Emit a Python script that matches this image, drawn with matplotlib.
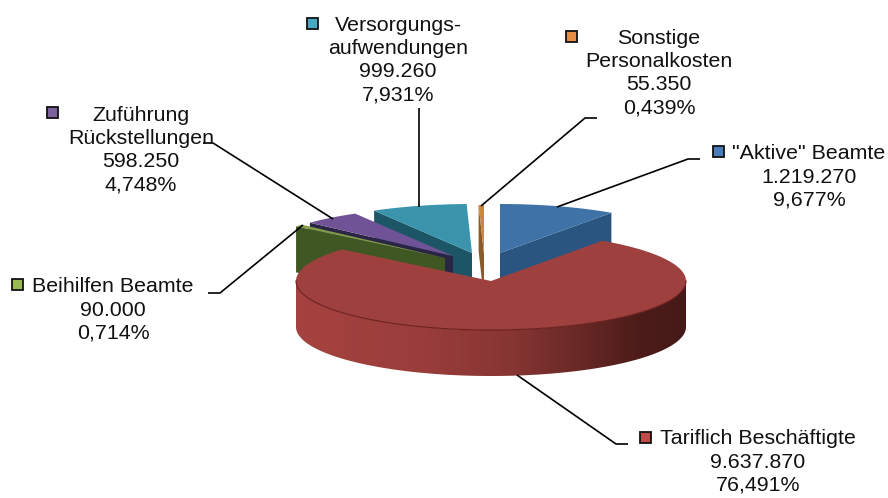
import numpy as np
import matplotlib
matplotlib.use("Agg")
import matplotlib.pyplot as plt
from matplotlib.patches import Polygon, Rectangle

plt.rcParams['font.family'] = ['Liberation Sans', 'DejaVu Sans']

# slices, clockwise from 12 o'clock
names = ['"Aktive" Beamte', 'Tariflich Beschäftigte', 'Beihilfen Beamte',
         'Zuführung\nRückstellungen', 'Versorgungs-\naufwendungen',
         'Sonstige\nPersonalkosten']
values = [1219270, 9637870, 90000, 598250, 999260, 55350]

top_colors = ['#3f73a8', '#9e413e', '#7f9a48', '#6f5396', '#3a94ac', '#c98642']
side_colors = ['#2a5580', '#9e413e', '#3f5722', '#2b2545', '#1c5566', '#8b5a2b']
key_colors = ['#4a7ebb', '#be4b48', '#98b954', '#7d60a0', '#46aac5', '#e48d45']

# apex of each exploded slice, in pixels
apex_x = [500, 491, 445, 453, 472, 484]
apex_y = [253, 281, 258, 256, 253, 254]
rx, ry, depth = 195, 49, 46
draw_order = [0, 5, 4, 3, 2, 1]

label_x = [809, 758, 113, 141, 398, 659]
label_y = [177, 462, 310, 150, 60, 73]
key_x = [718, 645, 17, 52, 312, 571]
key_y = [151, 437, 284, 112, 23, 36]
leaders = [[(700, 159), (688, 159), (557, 207)],
           [(628, 444), (616, 444), (517, 375)],
           [(208, 293), (220, 293), (303, 225)],
           [(203, 143), (213, 143), (333, 219)],
           [(419, 108), (419, 207)],
           [(597, 118), (585, 118), (481, 206)]]

# shading of the outer wall, left rim to right rim
shade_pos = [-1.0, -0.35, 0.1, 0.45, 0.75, 1.0]
shade_rgb = [[0.65, 0.26, 0.25], [0.60, 0.24, 0.23], [0.53, 0.21, 0.20],
             [0.41, 0.16, 0.15], [0.30, 0.11, 0.10], [0.27, 0.10, 0.09]]


def rim(cx, cy, t):
    return cx + rx * np.sin(t), cy - ry * np.cos(t)


def de_number(v):
    return f"{v:,}".replace(",", ".")


def de_percent(v, total):
    return f"{v / total * 100:.3f}".replace(".", ",") + "%"


fig = plt.figure(figsize=(8.88, 4.98), dpi=100)
ax = fig.add_axes([0, 0, 1, 1])
ax.axis('off')

total = sum(values)
edges = np.radians(np.concatenate([[0], np.cumsum(values)]) / total * 360)

for i in draw_order:
    cx, cy = apex_x[i], apex_y[i]
    t0, t1 = edges[i], edges[i + 1]
    # cut face turned towards the viewer
    t_face = t1 if i == 0 else t0
    fx, fy = rim(cx, cy, t_face)
    face = [(cx, cy), (fx, fy), (fx, fy + depth), (cx, cy + depth)]
    if i != 1:
        ax.add_patch(Polygon(face, closed=True, fc=side_colors[i], ec='none', zorder=2))

    # outer wall, front half only, dark to the right
    lo, hi = max(t0, np.pi / 2), min(t1, 3 * np.pi / 2)
    if hi > lo:
        ts = np.linspace(lo, hi, 300)
        xs, ys = rim(cx, cy, ts)
        wall = list(zip(xs, ys)) + list(zip(xs[::-1], ys[::-1] + depth))
        clip = Polygon(wall, closed=True, transform=ax.transData, fc='none', ec='none')
        ax.add_patch(clip)
        pos = np.linspace(-1, 1, 400)
        grad = np.array([[np.interp(pos, shade_pos, [c[k] for c in shade_rgb]) for k in range(3)]])
        grad = np.transpose(grad, (0, 2, 1))
        im = ax.imshow(grad, extent=[cx - rx, cx + rx, cy + ry + depth + 2, cy - 2],
                       aspect='auto', zorder=3, interpolation='bilinear')
        im.set_clip_path(clip)

    # top surface
    ts = np.linspace(t0, t1, 300)
    xs, ys = rim(cx, cy, ts)
    pts = [(cx, cy)] + list(zip(xs, ys))
    ax.add_patch(Polygon(pts, closed=True, fc=top_colors[i], ec='none', zorder=4))
    if i == 1:
        ts = np.linspace(np.pi / 2, 3 * np.pi / 2, 200)
        xs, ys = rim(cx, cy, ts)
        ax.plot(xs, ys, color='#6b1f1d', lw=0.8, zorder=5)

for i in range(len(values)):
    text = f"{names[i]}\n{de_number(values[i])}\n{de_percent(values[i], total)}"
    ax.text(label_x[i], label_y[i], text, ha='center', va='center', fontsize=15.4,
            color='#111111', linespacing=1.27, zorder=7)
    ax.add_patch(Rectangle((key_x[i] - 5.5, key_y[i] - 5.5), 11, 11, fc=key_colors[i],
                           ec='#111111', lw=1.3, zorder=7))
    xs, ys = zip(*leaders[i])
    ax.plot(xs, ys, color='black', lw=1.2, zorder=6, solid_capstyle='butt')

ax.set_xlim(0, 888)
ax.set_ylim(498, 0)
fig.savefig('out.png', dpi=100)
